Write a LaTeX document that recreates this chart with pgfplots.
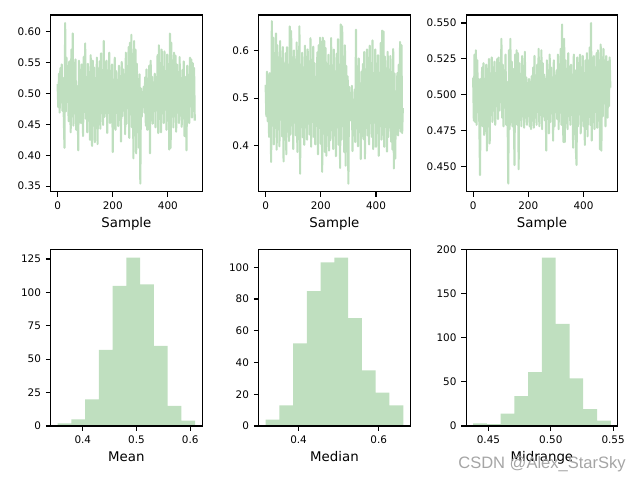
\documentclass[border=0pt]{standalone}
\usepackage{fontspec}
\setmainfont{DejaVu Sans}
\newfontfamily\wmfont{Liberation Sans}
\usepackage{pgfplots}
\usepackage{pgfplotstable}
\pgfplotsset{compat=1.18}

\definecolor{histgreen}{RGB}{191,223,191}
\definecolor{wmgray}{RGB}{165,165,165}

% sample traces, one value every 2.5 samples
\pgfplotstableread[row sep=\\]{
y\\
0.515\\ 0.478\\ 0.532\\ 0.469\\ 0.541\\ 0.486\\ 0.547\\ 0.472\\ 0.525\\ 0.463\\
0.412\\ 0.614\\ 0.471\\ 0.558\\ 0.489\\ 0.544\\ 0.455\\ 0.552\\ 0.498\\ 0.437\\
0.571\\ 0.463\\ 0.597\\ 0.448\\ 0.529\\ 0.476\\ 0.555\\ 0.441\\ 0.512\\ 0.488\\
0.408\\ 0.553\\ 0.467\\ 0.538\\ 0.452\\ 0.547\\ 0.493\\ 0.431\\ 0.559\\ 0.472\\
0.581\\ 0.459\\ 0.521\\ 0.437\\ 0.548\\ 0.483\\ 0.531\\ 0.425\\ 0.562\\ 0.478\\
0.415\\ 0.553\\ 0.466\\ 0.542\\ 0.421\\ 0.519\\ 0.474\\ 0.558\\ 0.418\\ 0.537\\
0.486\\ 0.552\\ 0.443\\ 0.565\\ 0.471\\ 0.529\\ 0.449\\ 0.585\\ 0.462\\ 0.541\\
0.478\\ 0.553\\ 0.436\\ 0.526\\ 0.491\\ 0.566\\ 0.452\\ 0.534\\ 0.468\\ 0.547\\
0.405\\ 0.522\\ 0.469\\ 0.558\\ 0.441\\ 0.536\\ 0.482\\ 0.512\\ 0.447\\ 0.545\\
0.473\\ 0.528\\ 0.422\\ 0.551\\ 0.463\\ 0.539\\ 0.487\\ 0.531\\ 0.434\\ 0.566\\
0.451\\ 0.541\\ 0.477\\ 0.575\\ 0.428\\ 0.582\\ 0.466\\ 0.595\\ 0.445\\ 0.562\\
0.395\\ 0.585\\ 0.432\\ 0.571\\ 0.403\\ 0.548\\ 0.458\\ 0.523\\ 0.412\\ 0.531\\
0.354\\ 0.508\\ 0.462\\ 0.502\\ 0.478\\ 0.511\\ 0.469\\ 0.526\\ 0.448\\ 0.539\\
0.441\\ 0.524\\ 0.478\\ 0.545\\ 0.403\\ 0.553\\ 0.462\\ 0.527\\ 0.451\\ 0.518\\
0.488\\ 0.532\\ 0.445\\ 0.526\\ 0.473\\ 0.562\\ 0.436\\ 0.578\\ 0.459\\ 0.549\\
0.437\\ 0.571\\ 0.468\\ 0.543\\ 0.452\\ 0.568\\ 0.484\\ 0.536\\ 0.441\\ 0.563\\
0.476\\ 0.542\\ 0.409\\ 0.597\\ 0.412\\ 0.582\\ 0.463\\ 0.534\\ 0.445\\ 0.566\\
0.482\\ 0.561\\ 0.438\\ 0.547\\ 0.469\\ 0.531\\ 0.452\\ 0.559\\ 0.475\\ 0.524\\
0.446\\ 0.538\\ 0.489\\ 0.552\\ 0.431\\ 0.527\\ 0.472\\ 0.408\\ 0.545\\ 0.463\\
0.523\\ 0.452\\ 0.558\\ 0.479\\ 0.555\\ 0.461\\ 0.549\\ 0.472\\ 0.541\\ 0.456\\
}\meandata

\pgfplotstableread[row sep=\\]{
y\\
0.528\\ 0.462\\ 0.556\\ 0.451\\ 0.548\\ 0.418\\ 0.553\\ 0.472\\ 0.365\\ 0.663\\
0.445\\ 0.628\\ 0.402\\ 0.595\\ 0.468\\ 0.637\\ 0.391\\ 0.612\\ 0.453\\ 0.574\\
0.398\\ 0.621\\ 0.472\\ 0.583\\ 0.419\\ 0.608\\ 0.366\\ 0.571\\ 0.437\\ 0.595\\
0.381\\ 0.608\\ 0.452\\ 0.563\\ 0.409\\ 0.652\\ 0.423\\ 0.642\\ 0.472\\ 0.586\\
0.392\\ 0.601\\ 0.448\\ 0.572\\ 0.421\\ 0.618\\ 0.386\\ 0.548\\ 0.429\\ 0.652\\
0.340\\ 0.571\\ 0.452\\ 0.596\\ 0.417\\ 0.563\\ 0.401\\ 0.611\\ 0.438\\ 0.587\\
0.412\\ 0.603\\ 0.446\\ 0.558\\ 0.423\\ 0.627\\ 0.397\\ 0.581\\ 0.452\\ 0.609\\
0.418\\ 0.574\\ 0.402\\ 0.545\\ 0.469\\ 0.597\\ 0.381\\ 0.612\\ 0.437\\ 0.628\\
0.403\\ 0.619\\ 0.344\\ 0.628\\ 0.425\\ 0.621\\ 0.386\\ 0.606\\ 0.378\\ 0.571\\
0.453\\ 0.592\\ 0.389\\ 0.568\\ 0.411\\ 0.627\\ 0.447\\ 0.553\\ 0.392\\ 0.603\\
0.421\\ 0.548\\ 0.377\\ 0.594\\ 0.438\\ 0.625\\ 0.401\\ 0.571\\ 0.352\\ 0.656\\
0.412\\ 0.652\\ 0.441\\ 0.588\\ 0.386\\ 0.612\\ 0.357\\ 0.568\\ 0.431\\ 0.546\\
0.319\\ 0.524\\ 0.452\\ 0.511\\ 0.463\\ 0.526\\ 0.388\\ 0.497\\ 0.442\\ 0.518\\
0.407\\ 0.645\\ 0.436\\ 0.562\\ 0.398\\ 0.584\\ 0.428\\ 0.531\\ 0.371\\ 0.556\\
0.451\\ 0.572\\ 0.413\\ 0.598\\ 0.372\\ 0.561\\ 0.437\\ 0.603\\ 0.421\\ 0.585\\
0.402\\ 0.611\\ 0.447\\ 0.574\\ 0.418\\ 0.622\\ 0.392\\ 0.552\\ 0.453\\ 0.603\\
0.397\\ 0.573\\ 0.426\\ 0.591\\ 0.378\\ 0.552\\ 0.441\\ 0.617\\ 0.412\\ 0.643\\
0.423\\ 0.641\\ 0.397\\ 0.588\\ 0.442\\ 0.563\\ 0.387\\ 0.598\\ 0.418\\ 0.552\\
0.462\\ 0.589\\ 0.408\\ 0.521\\ 0.391\\ 0.604\\ 0.351\\ 0.552\\ 0.372\\ 0.514\\
0.458\\ 0.553\\ 0.421\\ 0.571\\ 0.437\\ 0.619\\ 0.429\\ 0.612\\ 0.426\\ 0.479\\
}\mediandata

\pgfplotstableread[row sep=\\]{
y\\
0.512\\ 0.482\\ 0.528\\ 0.481\\ 0.531\\ 0.479\\ 0.524\\ 0.492\\ 0.511\\ 0.479\\
0.444\\ 0.511\\ 0.486\\ 0.519\\ 0.478\\ 0.522\\ 0.472\\ 0.509\\ 0.488\\ 0.521\\
0.461\\ 0.518\\ 0.478\\ 0.525\\ 0.466\\ 0.514\\ 0.492\\ 0.526\\ 0.481\\ 0.519\\
0.489\\ 0.523\\ 0.479\\ 0.512\\ 0.497\\ 0.525\\ 0.483\\ 0.526\\ 0.489\\ 0.518\\
0.495\\ 0.539\\ 0.484\\ 0.521\\ 0.478\\ 0.517\\ 0.491\\ 0.528\\ 0.479\\ 0.509\\
0.482\\ 0.438\\ 0.531\\ 0.476\\ 0.539\\ 0.481\\ 0.523\\ 0.478\\ 0.518\\ 0.486\\
0.451\\ 0.528\\ 0.482\\ 0.531\\ 0.479\\ 0.529\\ 0.448\\ 0.522\\ 0.485\\ 0.513\\
0.478\\ 0.527\\ 0.491\\ 0.519\\ 0.477\\ 0.530\\ 0.484\\ 0.512\\ 0.479\\ 0.508\\
0.486\\ 0.511\\ 0.478\\ 0.509\\ 0.476\\ 0.513\\ 0.482\\ 0.519\\ 0.477\\ 0.527\\
0.484\\ 0.512\\ 0.479\\ 0.521\\ 0.488\\ 0.532\\ 0.478\\ 0.517\\ 0.486\\ 0.531\\
0.476\\ 0.522\\ 0.489\\ 0.514\\ 0.482\\ 0.509\\ 0.461\\ 0.524\\ 0.487\\ 0.516\\
0.473\\ 0.528\\ 0.481\\ 0.519\\ 0.491\\ 0.512\\ 0.468\\ 0.524\\ 0.478\\ 0.508\\
0.492\\ 0.517\\ 0.483\\ 0.528\\ 0.476\\ 0.521\\ 0.489\\ 0.532\\ 0.479\\ 0.549\\
0.486\\ 0.467\\ 0.539\\ 0.467\\ 0.524\\ 0.489\\ 0.518\\ 0.476\\ 0.529\\ 0.493\\
0.508\\ 0.479\\ 0.521\\ 0.492\\ 0.514\\ 0.463\\ 0.528\\ 0.482\\ 0.517\\ 0.462\\
0.451\\ 0.526\\ 0.478\\ 0.522\\ 0.491\\ 0.528\\ 0.473\\ 0.519\\ 0.482\\ 0.527\\
0.478\\ 0.515\\ 0.465\\ 0.524\\ 0.487\\ 0.529\\ 0.471\\ 0.518\\ 0.486\\ 0.533\\
0.479\\ 0.550\\ 0.468\\ 0.522\\ 0.481\\ 0.527\\ 0.476\\ 0.519\\ 0.488\\ 0.529\\
0.477\\ 0.531\\ 0.483\\ 0.524\\ 0.462\\ 0.535\\ 0.461\\ 0.526\\ 0.485\\ 0.532\\
0.494\\ 0.524\\ 0.478\\ 0.527\\ 0.491\\ 0.484\\ 0.523\\ 0.492\\ 0.526\\ 0.505\\
}\midrangedata

\pgfplotsset{
  panel/.style={
    scale only axis,
    width=109pt, height=127.2pt,
    anchor=south west,
    axis on top,
    axis line style={line width=0.8pt},
    tick style={line width=0.8pt, black},
    major tick length=3.5pt,
    tick align=outside,
    tick pos=left,
    /pgf/number format/assume math mode=true,
    tick label style={font=\fontsize{7.5}{9}\selectfont},
    label style={font=\fontsize{9.6}{11}\selectfont},
    xlabel style={yshift=1pt},
  },
  trace/.style={panel, xmin=-24.95, xmax=523.95,
    xtick={0,200,400}, xticklabels={0,200,400}, xlabel={Sample}},
  hist/.style={panel, ymin=0},
}

\begin{document}
\begin{tikzpicture}
\useasboundingbox (0,0) rectangle (460.8pt,345.6pt);

% top row: traces
\begin{axis}[trace, at={(36.5pt,207.6pt)},
  ymin=0.341, ymax=0.627,
  ytick={0.35,0.40,0.45,0.50,0.55,0.60},
  yticklabels={0.35,0.40,0.45,0.50,0.55,0.60}]
\addplot[histgreen, line width=1.5pt, line join=round] table[x expr=2.5*\coordindex, y index=0] {\meandata};
\end{axis}

\begin{axis}[trace, at={(186.3pt,207.6pt)},
  ymin=0.302, ymax=0.676,
  ytick={0.4,0.5,0.6},
  yticklabels={0.4,0.5,0.6}]
\addplot[histgreen, line width=1.5pt, line join=round] table[x expr=2.5*\coordindex, y index=0] {\mediandata};
\end{axis}

\begin{axis}[trace, at={(335.7pt,207.6pt)},
  ymin=0.4324, ymax=0.5556,
  ytick={0.450,0.475,0.500,0.525,0.550},
  yticklabels={0.450,0.475,0.500,0.525,0.550}]
\addplot[histgreen, line width=1.5pt, line join=round] table[x expr=2.5*\coordindex, y index=0] {\midrangedata};
\end{axis}

% bottom row: histograms
\begin{axis}[hist, at={(36.5pt,38.9pt)},
  xmin=0.3402, xmax=0.6221, ymax=132.3,
  xtick={0.4,0.5,0.6}, xticklabels={0.4,0.5,0.6},
  ytick={0,25,50,75,100,125}, yticklabels={0,25,50,75,100,125},
  xlabel={Mean}]
\addplot[ybar interval, fill=histgreen, draw=none] coordinates {
  (0.3530,2) (0.3786,5) (0.4043,20) (0.4299,57) (0.4555,105)
  (0.4812,126) (0.5068,106) (0.5324,60) (0.5580,15) (0.5837,4) (0.6093,4)};
\end{axis}

\begin{axis}[hist, at={(186.3pt,38.9pt)},
  xmin=0.3006, xmax=0.6786, ymax=111.3,
  xtick={0.4,0.6}, xticklabels={0.4,0.6},
  ytick={0,20,40,60,80,100}, yticklabels={0,20,40,60,80,100},
  xlabel={Median}]
\addplot[ybar interval, fill=histgreen, draw=none] coordinates {
  (0.3178,4) (0.3522,13) (0.3865,52) (0.4209,85) (0.4552,103)
  (0.4896,106) (0.5240,68) (0.5583,35) (0.5927,21) (0.6270,13) (0.6614,13)};
\end{axis}

\begin{axis}[hist, at={(335.7pt,38.9pt)},
  xmin=0.4322, xmax=0.5536, ymax=200.55,
  xtick={0.45,0.50,0.55}, xticklabels={0.45,0.50,0.55},
  ytick={0,50,100,150,200}, yticklabels={0,50,100,150,200},
  xlabel={Midrange}]
\addplot[ybar interval, fill=histgreen, draw=none] coordinates {
  (0.4377,3) (0.4487,2) (0.4598,14) (0.4708,34) (0.4819,61)
  (0.4929,191) (0.5039,116) (0.5150,54) (0.5260,19) (0.5371,6) (0.5481,6)};
\end{axis}

% watermark
\node[anchor=base west, inner sep=0pt, text=wmgray, font=\wmfont\fontsize{11.9}{13}\selectfont]
  at (329.8pt,8.6pt) {CSDN @Alex\_StarSky};
\end{tikzpicture}
\end{document}
